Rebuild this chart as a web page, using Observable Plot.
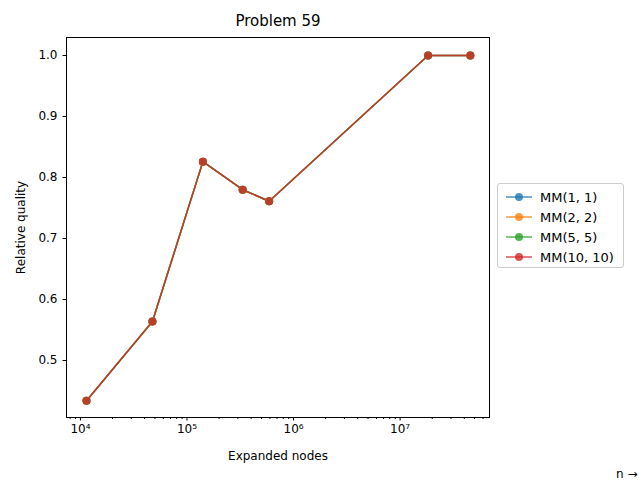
<!DOCTYPE html>
<html><head><meta charset="utf-8">
<script src="https://cdn.jsdelivr.net/npm/d3@7"></script>
<script src="https://cdn.jsdelivr.net/npm/@observablehq/plot@0.6"></script>
<style>
body{margin:0;font-family:"DejaVu Sans",sans-serif;}
#wrap{position:relative;width:640px;height:480px;}
#legend{position:absolute;left:497px;top:183px;width:127px;height:85px;border:1px solid #ccc;border-radius:3px;background:#fff;font-size:13px;box-sizing:border-box;padding:3px 6px;}
#legend div{display:flex;align-items:center;height:20px;}
</style></head><body>
<div id="wrap"><div id="legend"></div></div>
<script>
const nodes = [11400, 47400, 141000, 333000, 590000, 18300000, 45600000];
const quality = [0.434, 0.564, 0.826, 0.780, 0.761, 1.0, 1.0];
const series = ["MM(1, 1)", "MM(2, 2)", "MM(5, 5)", "MM(10, 10)"];
const colors = ["#1f77b4", "#ff7f0e", "#2ca02c", "#d62728"];
const majorTicks = [1e4, 1e5, 1e6, 1e7];
const sup = {"0":"⁰","1":"¹","2":"²","3":"³","4":"⁴","5":"⁵","6":"⁶","7":"⁷","8":"⁸","9":"⁹"};
const minorTicks = [];
for (let e = 3; e <= 7; e++) for (let m = 2; m <= 9; m++) { const v = m * 10 ** e; if (v > 7400 && v < 6.9e7) minorTicks.push(v); }
const data = series.flatMap((s) => nodes.map((n, i) => ({s, n, q: quality[i]})));
const plot = Plot.plot({
  width: 640, height: 480,
  marginLeft: 66, marginRight: 151, marginTop: 37, marginBottom: 63,
  style: {fontFamily: "DejaVu Sans, sans-serif", fontSize: "12px", color: "#000"},
  x: {type: "log", domain: [7400, 6.9e7]},
  y: {domain: [0.4066, 1.0295]},
  color: {domain: series, range: colors},
  marks: [
    Plot.frame({stroke: "#000"}),
    Plot.axisX({ticks: minorTicks, tickSize: 2, tickFormat: () => ""}),
    Plot.axisX({ticks: majorTicks, tickSize: 3.5, tickPadding: 3, fontSize: 12,
      tickFormat: (d) => "10" + String(Math.round(Math.log10(d))).split("").map(c => sup[c]).join(""),
      label: "Expanded nodes", labelAnchor: "center", labelArrow: "none", labelOffset: 42}),
    Plot.axisY({ticks: [0.5,0.6,0.7,0.8,0.9,1.0], tickFormat: d3.format(".1f"), tickSize: 3.5,
      label: "Relative quality", labelAnchor: "center", labelArrow: "none", labelOffset: 50}),
    Plot.line(data, {x: "n", y: "q", z: "s", stroke: "s", strokeWidth: 1.5, strokeOpacity: 0.8}),
    Plot.dot(data, {x: "n", y: "q", fill: "s", r: 4, fillOpacity: 0.8}),
    Plot.text(["Problem 59"], {frameAnchor: "top", dy: -22, fontSize: 15})
  ]
});
document.getElementById("wrap").prepend(plot);
const leg = document.getElementById("legend");
series.forEach((s, i) => {
  leg.insertAdjacentHTML("beforeend", `<div><svg width="30" height="12"><line x1="2" x2="28" y1="6" y2="6" stroke="${colors[i]}" stroke-opacity="0.8" stroke-width="1.5"/><circle cx="15" cy="6" r="4" fill="${colors[i]}" fill-opacity="0.8"/></svg><span style="margin-left:6px">${s}</span></div>`);
});
</script></body></html>
